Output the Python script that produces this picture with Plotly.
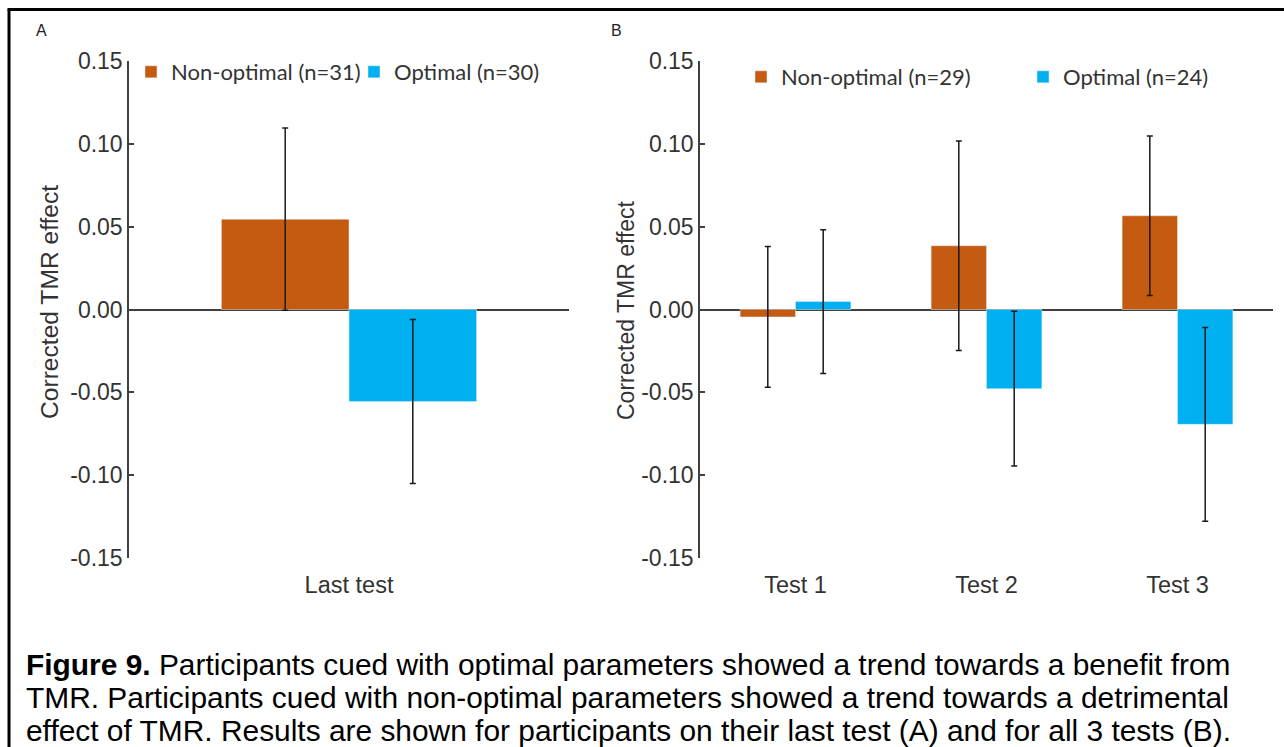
import plotly.graph_objects as go

W, H = 1284, 747

# ---------------- data ----------------
cats_a = ["Last test"]
nonopt_a = [0.0545]
nonopt_a_err = [0.055]
opt_a = [-0.0556]
opt_a_err = [0.0495]

cats_b = ["Test 1", "Test 2", "Test 3"]
nonopt_b = [-0.0045, 0.0385, 0.0566]
nonopt_b_err = [0.0425, 0.0632, 0.0482]
opt_b = [0.0048, -0.0478, -0.0693]
opt_b_err = [0.0434, 0.0467, 0.0585]

ytick_vals = [-0.15, -0.10, -0.05, 0.0, 0.05, 0.10, 0.15]
ytick_text = ["-0.15", "-0.10", "-0.05", "0.00", "0.05", "0.10", "0.15"]

legend_a = ["Non-optimal (n=31)", "Optimal (n=30)"]
legend_b = ["Non-optimal (n=29)", "Optimal (n=24)"]

y_title = "Corrected TMR effect"
caption_lines = [
    "<b>Figure 9.</b> Participants cued with optimal parameters showed a trend towards a benefit from",
    "TMR. Participants cued with non-optimal parameters showed a trend towards a detrimental",
    "effect of TMR. Results are shown for participants on their last test (A) and for all 3 tests (B).",
]

# ---------------- style ----------------
ORANGE = "#C55A11"
BLUE = "#00B0F0"
AX = "#404040"
TXT = "#333333"
FONT = "Liberation Sans, Arial, sans-serif"
LEGFONT = "Lato, Carlito, Calibri, sans-serif"


def px(x):
    return x / W


def py(y):
    return 1 - y / H


err_style = dict(type="data", color="#1a1a1a", thickness=1.5, width=3)

fig = go.Figure()

fig.add_trace(go.Bar(x=cats_a, y=nonopt_a, name=legend_a[0], marker_color=ORANGE,
                     error_y=dict(array=nonopt_a_err, **err_style),
                     xaxis="x", yaxis="y", legend="legend"))
fig.add_trace(go.Bar(x=cats_a, y=opt_a, name=legend_a[1], marker_color=BLUE,
                     error_y=dict(array=opt_a_err, **err_style),
                     xaxis="x", yaxis="y", legend="legend2"))
fig.add_trace(go.Bar(x=cats_b, y=nonopt_b, name=legend_b[0], marker_color=ORANGE,
                     error_y=dict(array=nonopt_b_err, **err_style),
                     xaxis="x2", yaxis="y2", legend="legend3"))
fig.add_trace(go.Bar(x=cats_b, y=opt_b, name=legend_b[1], marker_color=BLUE,
                     error_y=dict(array=opt_b_err, **err_style),
                     xaxis="x2", yaxis="y2", legend="legend4"))

yax = dict(range=[-0.15, 0.15], tickvals=ytick_vals, ticktext=ytick_text,
           showline=True, linecolor=AX, linewidth=1.5,
           ticks="inside", ticklen=5, tickwidth=1.5, tickcolor=AX,
           showgrid=False, zeroline=True, zerolinecolor=AX, zerolinewidth=1.5,
           tickfont=dict(family=FONT, size=23, color=TXT), ticklabelstandoff=0)
xax = dict(showline=False, ticks="", showgrid=False, zeroline=False,
           tickfont=dict(family=FONT, size=23.5, color=TXT), ticklabelstandoff=10)

leg = dict(orientation="h", xanchor="left", yanchor="middle",
           bgcolor="rgba(0,0,0,0)", font=dict(family=LEGFONT, size=22, color=TXT),
           itemwidth=30)

fig.update_layout(
    width=W, height=H,
    margin=dict(l=0, r=0, t=0, b=0, autoexpand=False),
    paper_bgcolor="white", plot_bgcolor="white",
    barmode="group", bargap=0.42, bargroupgap=0,
    xaxis=dict(domain=[px(129), px(569)], anchor="y", range=[-0.5, 0.5], **xax),
    yaxis=dict(domain=[py(558), py(61)], anchor="x", **yax),
    xaxis2=dict(domain=[px(700), px(1273)], anchor="y2", range=[-0.5, 2.5], **xax),
    yaxis2=dict(domain=[py(558), py(61)], anchor="x2", **yax),
    legend=dict(x=px(131), y=py(72), **leg),
    legend2=dict(x=px(354), y=py(72), **leg),
    legend3=dict(x=px(741), y=py(77), **leg),
    legend4=dict(x=px(1023), y=py(77), **leg),
    showlegend=True,
)

# y-axis titles
for xpos, ypos, size in ((50, 302, 24.6), (626, 310, 23)):
    fig.add_annotation(text=y_title, x=px(xpos), y=py(ypos), xref="paper", yref="paper",
                       textangle=-90, showarrow=False, xanchor="center", yanchor="middle",
                       font=dict(family=FONT, size=size, color=TXT))

# panel letters
for letter, xpos in (("A", 42), ("B", 616)):
    fig.add_annotation(text=letter, x=px(xpos), y=py(30), xref="paper", yref="paper",
                       showarrow=False, xanchor="center", yanchor="middle",
                       font=dict(family=FONT, size=16, color="#222222"))

# caption
for i, line in enumerate(caption_lines):
    fig.add_annotation(text=line, x=px(24), y=py(664 + 33 * i), xref="paper", yref="paper",
                       showarrow=False, xanchor="left", yanchor="middle",
                       font=dict(family=FONT, size=29.9, color="black"))

# frame
fig.add_shape(type="line", xref="paper", yref="paper", x0=px(9), y0=0, x1=px(9), y1=py(9.5),
              line=dict(color="black", width=3))
fig.add_shape(type="line", xref="paper", yref="paper", x0=px(7.5), y0=py(9.5), x1=1, y1=py(9.5),
              line=dict(color="black", width=3))

fig.write_html("out.html")
